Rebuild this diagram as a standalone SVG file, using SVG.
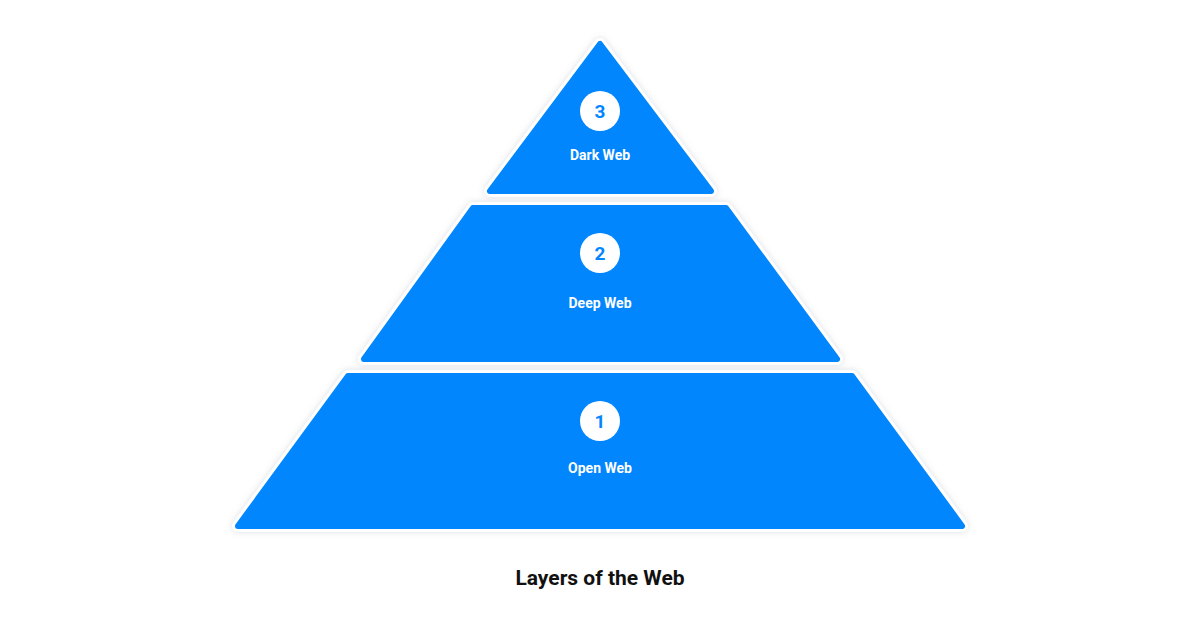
<svg xmlns="http://www.w3.org/2000/svg" width="1200" height="630" viewBox="0 0 1200 630">
<defs>
<filter id="sh" x="-10%" y="-10%" width="120%" height="120%"><feDropShadow dx="0" dy="0" stdDeviation="3" flood-color="#8890a0" flood-opacity="0.3"/></filter>
</defs>
<style>
.bg{fill:#fff;stroke:#fff;stroke-width:12;stroke-linejoin:round;filter:url(#sh)}
.lay{fill:#0286fe;stroke:#0286fe;stroke-width:6;stroke-linejoin:round}
.num{font-family:Roboto,"Liberation Sans",sans-serif;font-weight:bold;font-size:19px;fill:#0286fe;text-anchor:middle}
.lbl{font-family:Roboto,"Liberation Sans",sans-serif;font-weight:bold;font-size:14px;fill:#fff;text-anchor:middle}
</style>
<rect width="1200" height="630" fill="#fff"/>
<g id="layer3">
<polygon class="bg" points="600,44 490,191 711,191"/>
<polygon class="lay" points="600,44 490,191 711,191"/>
<circle cx="600" cy="111" r="20" fill="#fff"/>
<text class="num" x="600" y="118">3</text>
<text class="lbl" x="600" y="160">Dark Web</text>
</g>
<g id="layer2">
<polygon class="bg" points="473,208 726,208 837,359 364,359"/>
<polygon class="lay" points="473,208 726,208 837,359 364,359"/>
<circle cx="600" cy="253" r="20" fill="#fff"/>
<text class="num" x="600" y="260">2</text>
<text class="lbl" x="600" y="308">Deep Web</text>
</g>
<g id="layer1">
<polygon class="bg" points="348,376 852,376 962,526 238,526"/>
<polygon class="lay" points="348,376 852,376 962,526 238,526"/>
<circle cx="600" cy="421" r="20" fill="#fff"/>
<text class="num" x="600" y="428">1</text>
<text class="lbl" x="600" y="473">Open Web</text>
</g>
<g id="connectors"/>
<text x="600" y="585" font-family="Roboto,'Liberation Sans',sans-serif" font-weight="bold" font-size="21" fill="#111" text-anchor="middle">Layers of the Web</text>
</svg>
